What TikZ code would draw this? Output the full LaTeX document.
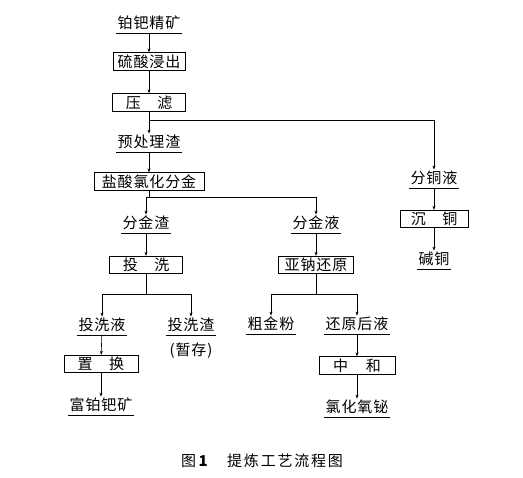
\documentclass[tikz,border=0pt]{standalone}
\usepackage{fontspec}
\newfontfamily\cjk{Noto Sans CJK SC}[LetterSpace=6]
\newfontfamily\cjkcap{Noto Sans CJK SC}
\usetikzlibrary{arrows.meta}
\begin{document}
\begin{tikzpicture}[x=1pt,y=-1pt,
  font=\cjk\fontsize{15}{17}\selectfont,
  proc/.style={draw,line width=0.8pt,minimum height=17.5pt,inner sep=0pt,anchor=center},
  prod/.style={anchor=south,inner xsep=1.5pt,inner ysep=2.5pt,text height=11.5pt,text depth=1.5pt,
    append after command={(\tikzlastnode.south west) edge[draw,line width=0.7pt] (\tikzlastnode.south east)}},
  link/.style={line width=0.6pt},
  arr/.style={link,-{Stealth[length=4pt,width=3pt]}}]
\useasboundingbox (0,0) rectangle (523,478);
% main column
\node[prod] (ore) at (149,33) {铂钯精矿};
\node[proc,minimum width=72pt] (leach) at (149,61.5) {硫酸浸出};
\node[proc,minimum width=73pt] (press) at (149,102.5) {压\hspace{1.1em}滤};
\node[prod] (pre) at (149,152) {预处理渣};
\node[proc,minimum width=110pt] (chl) at (149,181.5) {盐酸氯化分金};
% gold residue branch
\node[prod] (fjz) at (146,233) {分金渣};
\node[proc,minimum width=73pt] (wash) at (146,265) {投\hspace{1.1em}洗};
\node[prod] (wl) at (102,335) {投洗液};
\node[prod] (wr) at (191,335) {投洗渣};
\node[anchor=north] (store) at (191,339) {(暂存)};
\node[proc,minimum width=74pt] (rep) at (101,364) {置\hspace{1.1em}换};
\node[prod] (rich) at (101,415) {富铂钯矿};
% gold liquor branch
\node[prod] (fjy) at (316,233) {分金液};
\node[proc,minimum width=75pt] (red) at (316,265) {亚钠还原};
\node[prod] (au) at (271,334) {粗金粉};
\node[prod] (after) at (357,334) {还原后液};
\node[proc,minimum width=76pt] (neu) at (357,365.5) {中\hspace{1.2em}和};
\node[prod] (bi) at (357,417) {氯化氧铋};
% copper branch
\node[prod] (cul) at (434,188) {分铜液};
\node[proc,minimum width=68pt] (cup) at (434,219) {沉\hspace{1.1em}铜};
\node[prod] (cub) at (434,269) {碱铜};
% caption
\node[font=\cjkcap\fontsize{15}{17}\selectfont] (cap) at (262,461) {图\,\textbf{1}\hspace{1.3em}{\addfontfeature{LetterSpace=12}提炼工艺流程图}};
% junctions
\coordinate (j1) at (149,120);
\coordinate (j2) at (149,197);
\coordinate (j3) at (146,294.5);
\coordinate (j4) at (316,294);
% connectors
\draw[arr] (ore) -- (leach);
\draw[arr] (leach) -- (press);
\draw[arr] (press) -- (pre);
\draw[arr] (j1) -| (cul);
\draw[arr] (pre) -- (chl);
\draw[link] (chl.south) -- (j2);
\draw[arr] (j2) -| (fjz);
\draw[arr] (j2) -| (fjy);
\draw[arr] (fjz) -- (wash);
\draw[link] (wash.south) -- (j3);
\draw[arr] (j3) -| (wl);
\draw[arr] (j3) -| (wr);
\draw[arr] (wl) -- (rep);
\draw[arr] (rep) -- (rich);
\draw[arr] (fjy) -- (red);
\draw[link] (red.south) -- (j4);
\draw[arr] (j4) -| (au);
\draw[arr] (j4) -| (after);
\draw[arr] (after) -- (neu);
\draw[arr] (neu) -- (bi);
\draw[arr] (cul) -- (cup);
\draw[arr] (cup) -- (cub);
\end{tikzpicture}
\end{document}
